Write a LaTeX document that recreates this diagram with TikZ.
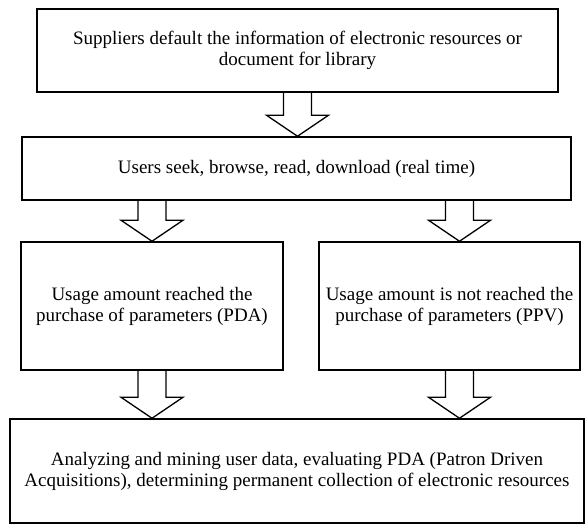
\documentclass[tikz,border=0pt]{standalone}
\usepackage{fontspec}
\setmainfont{Liberation Serif}
\usetikzlibrary{calc}
\newcommand{\hollowarrow}[2]{%
\draw [hollow] let \p1=(#1), \p2=(#2) in (\x1-14pt,\y1) -- (\x1-14pt,\y2+21pt) -- (\x1-31pt,\y2+21pt) -- (\x1,\y2) -- (\x1+31pt,\y2+21pt) -- (\x1+14pt,\y2+21pt) -- (\x1+14pt,\y1);}

\begin{document}
\begin{tikzpicture}[x=1pt,y=-1pt,
box/.style={draw=black,line width=1.5pt,rectangle,align=center,inner sep=0pt,font=\fontsize{19}{21}\selectfont},
hollow/.style={draw=black,line width=1.3pt,line join=miter}]
\useasboundingbox (0,0) rectangle (587,527);
\node [box,minimum width=521,minimum height=83] (supplier) at (297.5,50.5) {Suppliers default the information of electronic resources or\\document for library};
\node [box,minimum width=549,minimum height=63] (users) at (296.5,168.5) {Users seek, browse, read, download (real time)};
\node [box,minimum width=262,minimum height=128] (pda) at (152,306) {Usage amount reached the\\purchase of parameters (PDA)};
\node [box,minimum width=261,minimum height=128] (ppv) at (449.5,306) {Usage amount is not reached the\\purchase of parameters (PPV)};
\node [box,minimum width=574,minimum height=104] (result) at (297,471) {Analyzing and mining user data, evaluating PDA (Patron Driven\\Acquisitions), determining permanent collection of electronic resources};
\coordinate (ppvtop) at ([xshift=10pt]ppv.north);
\coordinate (ppvbot) at ([xshift=10pt]ppv.south);
\hollowarrow{supplier.south}{users.north}
\hollowarrow{users.south -| pda}{pda.north}
\hollowarrow{users.south -| ppvtop}{ppvtop}
\hollowarrow{pda.south}{result.north}
\hollowarrow{ppvbot}{result.north}
\end{tikzpicture}
\end{document}
